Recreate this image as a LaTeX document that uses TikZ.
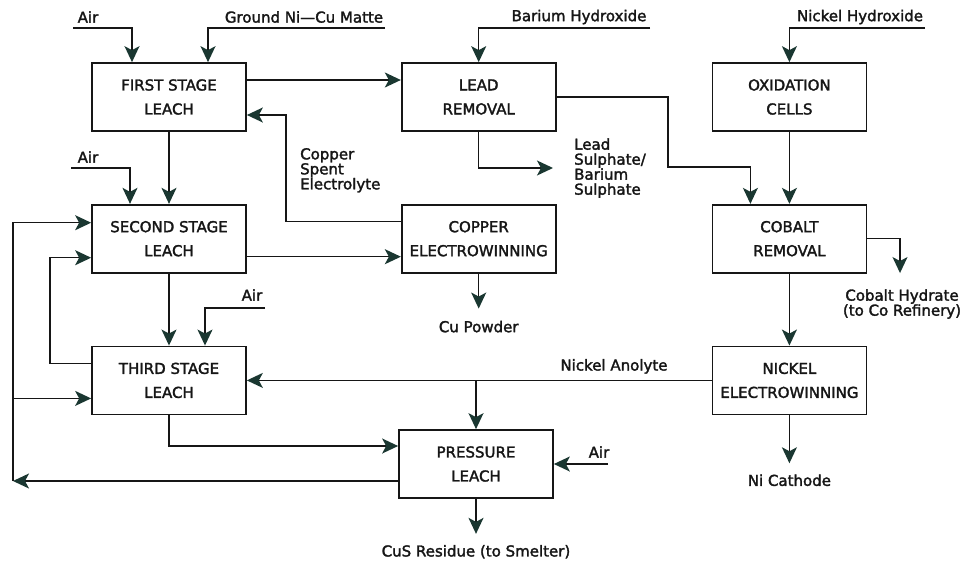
\documentclass[tikz,border=0pt]{standalone}
\usepackage{fontspec}
\setmainfont{DejaVu Sans}[RawFeature={embolden=2}]
\usetikzlibrary{arrows.meta, positioning}
\definecolor{inkline}{HTML}{161616}
\definecolor{tipgreen}{HTML}{1A3731}
\tikzset{
  stage/.style={rectangle, draw=inkline, line width=1.7pt, minimum width=154pt, minimum height=68pt, align=center, text=inkline, font=\fontsize{15}{24}\selectfont},
  stream/.style={text=inkline, inner sep=2pt, font=\fontsize{15}{15}\selectfont},
  arrow/.style={-{Stealth[length=16pt, width=15pt, inset=4pt, color=tipgreen]}, line width=1.5pt, draw=inkline},
}

\begin{document}
\begin{tikzpicture}[x=1pt, y=-1pt]
\useasboundingbox (0,0) rectangle (965,563);
% process stages
\node[stage] (fsl) at (169,97) {FIRST STAGE\\LEACH};
\node[stage, right=154pt of fsl] (lead) {LEAD\\REMOVAL};
\node[stage, right=155pt of lead] (oxi) {OXIDATION\\CELLS};
\node[stage, below=72pt of fsl] (ssl) {SECOND STAGE\\LEACH};
\node[stage, right=154pt of ssl] (cu) {COPPER\\ELECTROWINNING};
\node[stage, below=72pt of oxi] (cob) {COBALT\\REMOVAL};
\node[stage, below=72pt of ssl] (tsl) {THIRD STAGE\\LEACH};
\node[stage, below=72pt of cob] (niew) {NICKEL\\ELECTROWINNING};
\node[stage] (pl) at (476,464) {PRESSURE\\LEACH};
% feeds and products
\node[stream] (air1) at (88,17) {Air};
\node[stream] (matte) at (304,17) {Ground Ni—Cu Matte};
\node[stream] (baoh) at (579,17) {Barium Hydroxide};
\node[stream] (nioh) at (860,17) {Nickel Hydroxide};
\node[stream, align=left, anchor=north west] (spent) at (298,146) {Copper\\Spent\\Electrolyte};
\node[stream] (air2) at (88,157) {Air};
\node[stream, align=left, anchor=west] (lsul) at (572,168) {Lead\\Sulphate/\\Barium\\Sulphate};
\node[stream, below=45pt of cu] (cupow) {Cu Powder};
\node[stream, align=center] (cohyd) at (902,304) {Cobalt Hydrate\\(to Co Refinery)};
\node[stream] (air3) at (252,295) {Air};
\node[stream] (air4) at (599,452) {Air};
\node[stream, below=44pt of pl] (cus) {CuS Residue (to Smelter)};
\node[stream, below=57pt of niew] (nicath) {Ni Cathode};
\coordinate (air1in) at (73,28);
\coordinate (mattein) at (385,28);
\coordinate (baohin) at (650,28);
\coordinate (niohin) at (925,28);
\coordinate (air2in) at (71,168);
\coordinate (air3in) at (265,308);
\coordinate (air4in) at (608,464);
\coordinate (pbbend) at (668,167);
\coordinate (loopbl) at (13,481);
\coordinate (tslin) at ([yshift=-18pt]tsl.west);
% connectors
\draw[arrow] (air1in) -| ([xshift=-37pt]fsl.north);
\draw[arrow] (mattein) -| ([xshift=39pt]fsl.north);
\draw[arrow] (baohin) -| (lead.north); \draw[arrow] (niohin) -| (oxi.north);
\draw[arrow] ([yshift=17pt]fsl.east) -- ([yshift=17pt]lead.west);
\draw[arrow] ([yshift=17pt]cu.west) -- ++(-115,0) |- ([yshift=-18pt]fsl.east);
\draw[arrow] (fsl) -- (ssl);
\draw[arrow] (air2in) -| ([xshift=-39pt]ssl.north);
\draw[arrow] (lead.south) |- ([xshift=-19pt]lsul.west);
\draw[arrow] (lead.east) -| (pbbend) -| ([xshift=-39pt]cob.north);
\draw[arrow] (oxi) -- (cob);
\draw[arrow] ([yshift=-18pt]ssl.east) -- ([yshift=-18pt]cu.west);
\draw[arrow] (cu) -- ([yshift=10pt]cupow.north);
\draw[arrow] (cob.east) -| ([xshift=-2pt, yshift=14pt]cohyd.north);
\draw[arrow] (cob) -- (niew); \draw[arrow] (ssl) -- (tsl);
\draw[arrow] (air3in) -| ([xshift=36pt]tsl.north);
\draw[arrow] ([yshift=17pt]tsl.west) -- ++(-41,0) |- ([yshift=-19pt]ssl.west);
\draw[arrow] ([yshift=-17pt]pl.west) -- (loopbl);
\draw[arrow] (loopbl) |- ([yshift=16pt]ssl.west);
\draw[arrow] (loopbl |- tslin) -- (tslin);
\draw[arrow] (tsl.south) |- ([yshift=18pt]pl.west);
\draw[arrow] (niew.west) -- node[stream, pos=0.21, above=4pt] (anolyte) {Nickel Anolyte} (tsl.east);
\draw[arrow] (pl.north |- niew.west) -- (pl.north);
\draw[arrow] (air4in) -- (pl.east);
\draw[arrow] (pl) -- ([yshift=9pt]cus.north);
\draw[arrow] (niew) -- ([yshift=9pt]nicath.north);
\end{tikzpicture}
\end{document}
